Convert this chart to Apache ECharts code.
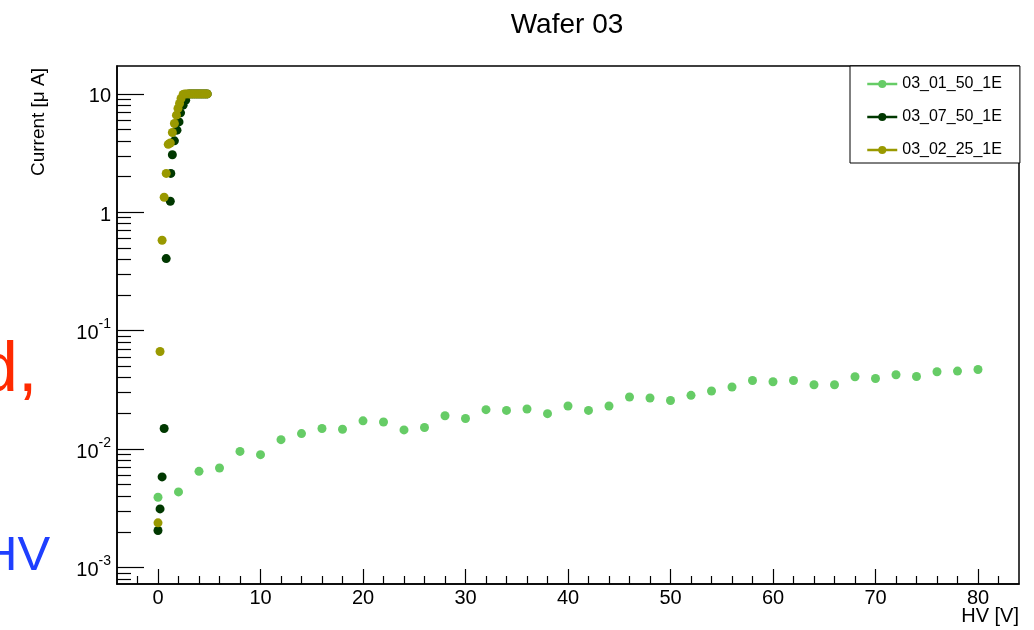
<!DOCTYPE html>
<html>
<head>
<meta charset="utf-8">
<script src="https://cdn.jsdelivr.net/npm/echarts@6/dist/echarts.min.js"></script>
<style>
html,body{margin:0;padding:0;background:#fff;}
#chart{width:1034px;height:630px;}
</style>
</head>
<body>
<div id="chart"></div>
<script>
// ---- data ----
const seriesNames = ['03_01_50_1E', '03_07_50_1E', '03_02_25_1E'];

const hv01 = [0,2,4,6,8,10,12,14,16,18,20,22,24,26,28,30,32,34,36,38,40,42,44,46,48,50,52,54,56,58,60,62,64,66,68,70,72,74,76,78,80];
const cur01 = [0.00391,0.00434,0.00648,0.00692,0.00955,0.00896,0.0120,0.0135,0.0149,0.0147,0.0173,0.0169,0.0145,0.0152,0.0191,0.0181,0.0215,0.0212,0.0218,0.0199,0.0231,0.0212,0.0231,0.0275,0.0270,0.0257,0.0284,0.0309,0.0334,0.0379,0.0370,0.0379,0.0349,0.0349,0.0408,0.0394,0.0424,0.0410,0.0449,0.0455,0.0470];

const hv07 = [0,0.2,0.4,0.6,0.8,1.2,1.25,1.4,1.6,1.85,2.05,2.2,2.45,2.7,3.0,3.2,3.4,3.6,3.8,4.0,4.2,4.4,4.6,4.8];
const cur07 = [0.00205,0.00312,0.00581,0.0149,0.406,1.24,2.13,3.06,4.01,4.94,5.80,6.92,8.03,8.85,10,10,10,10,10,10,10,10,10,10];

const hv02 = [0,0.2,0.4,0.6,0.8,1.0,1.2,1.4,1.6,1.8,1.95,2.1,2.25,2.45,2.6,2.8,3.0,3.2,3.4,3.6,3.8,4.0,4.2,4.4,4.6,4.8];
const cur02 = [0.00238,0.0667,0.580,1.34,2.13,3.75,3.85,4.72,5.62,6.61,7.53,8.30,9.15,9.9,10,10,10,10,10,10,10,10,10,10,10,10];

const xMajorTicks = [0,10,20,30,40,50,60,70,80];
const xMinorTicks = [-2,2,4,6,8,12,14,16,18,22,24,26,28,32,34,36,38,42,44,46,48,52,54,56,58,62,64,66,68,72,74,76,78,82];
const yMajorTicks = [0.001,0.01,0.1,1,10];
const yMinorTicks = [0.0008,0.0009,
  0.002,0.003,0.004,0.005,0.006,0.007,0.008,0.009,
  0.02,0.03,0.04,0.05,0.06,0.07,0.08,0.09,
  0.2,0.3,0.4,0.5,0.6,0.7,0.8,0.9,
  2,3,4,5,6,7,8,9];

const titleText = 'Wafer 03';
const xTitle = 'HV [V]';
const yTitle = 'Current [\u03bc A]';

// ---- chart ----
const FONT = '"Liberation Sans", Arial, Helvetica, sans-serif';
const colors = ['#66cc66', '#003800', '#999900'];
const pairs = (xs, ys) => xs.map((x, i) => [x, ys[i]]);
const seriesData = [pairs(hv01, cur01), pairs(hv07, cur07), pairs(hv02, cur02)];

const chart = echarts.init(document.getElementById('chart'), null, {renderer: 'canvas'});

const yLabelFmt = function (v) {
  const e = Math.round(Math.log10(v));
  if (e >= 0) return '{b|' + Math.round(Math.pow(10, e)) + '}';
  return '{b|10}{s|' + e + '}';
};

const option = {
  animation: false,
  backgroundColor: '#ffffff',
  textStyle: {fontFamily: FONT, color: '#000'},
  title: {
    text: titleText,
    left: 562, top: 6, textAlign: 'center',
    textStyle: {fontFamily: FONT, fontSize: 28, fontWeight: 'normal', color: '#000'}
  },
  legend: {
    data: seriesNames,
    orient: 'vertical',
    left: 850, top: 66,
    padding: [10, 18, 5, 16],
    itemGap: 17,
    itemWidth: 30, itemHeight: 10,
    backgroundColor: '#fff',
    borderColor: '#000', borderWidth: 1, borderRadius: 0,
    textStyle: {fontFamily: FONT, fontSize: 16, color: '#000'},
    lineStyle: {opacity: 1, width: 2.5},
    selectedMode: false
  },
  grid: {
    left: 117, right: 15, top: 66, bottom: 46,
    show: true, borderColor: '#000', borderWidth: 1.5,
    containLabel: false, outerBoundsMode: 'none'
  },
  xAxis: [
    {
      type: 'value', position: 'bottom', min: -4, max: 84,
      axisLine: {show: true, onZero: false, lineStyle: {color: '#000', width: 1.5}},
      axisTick: {show: true, inside: true, length: 15, customValues: xMajorTicks, lineStyle: {color: '#000', width: 1.2}},
      axisLabel: {show: true, customValues: xMajorTicks, fontFamily: FONT, fontSize: 20, color: '#000', margin: 4},
      splitLine: {show: false}
    },
    {
      type: 'value', position: 'bottom', min: -4, max: 84,
      axisLine: {show: false, onZero: false},
      axisTick: {show: true, inside: true, length: 8, customValues: xMinorTicks, lineStyle: {color: '#000', width: 1.2}},
      axisLabel: {show: false},
      splitLine: {show: false}
    }
  ],
  yAxis: [
    {
      type: 'log', logBase: 10, position: 'left', min: 0.000724, max: 17.2,
      axisLine: {show: true, onZero: false, lineStyle: {color: '#000', width: 1.5}},
      axisTick: {show: true, inside: true, length: 27, customValues: yMajorTicks, lineStyle: {color: '#000', width: 1.2}},
      axisLabel: {
        show: true, customValues: yMajorTicks, margin: 6, formatter: yLabelFmt,
        rich: {
          b: {fontFamily: FONT, fontSize: 20, color: '#000', lineHeight: 26, verticalAlign: 'bottom'},
          s: {fontFamily: FONT, fontSize: 14, color: '#000', lineHeight: 14, verticalAlign: 'top'}
        }
      },
      splitLine: {show: false}
    },
    {
      type: 'log', logBase: 10, position: 'left', min: 0.000724, max: 17.2,
      axisLine: {show: false, onZero: false},
      axisTick: {show: true, inside: true, length: 14, customValues: yMinorTicks, lineStyle: {color: '#000', width: 1.2}},
      axisLabel: {show: false},
      splitLine: {show: false}
    }
  ],
  series: seriesNames.map((name, i) => ({
    name: name,
    type: 'line',
    xAxisIndex: 0, yAxisIndex: 0,
    data: seriesData[i],
    symbol: 'circle', symbolSize: 9, showSymbol: true,
    itemStyle: {color: colors[i]},
    lineStyle: {color: colors[i], width: 2, opacity: 0},
    emphasis: {disabled: true},
    z: 2 + i
  })),
  graphic: [
    {
      type: 'text', x: 39, y: 122, rotation: Math.PI / 2,
      style: {text: yTitle, fontFamily: FONT, fontSize: 19, fill: '#000', textAlign: 'center', textVerticalAlign: 'middle'}
    },
    {
      type: 'text', x: 1019, y: 616,
      style: {text: xTitle, fontFamily: FONT, fontSize: 20, fill: '#000', textAlign: 'right', textVerticalAlign: 'middle'}
    },
    {
      type: 'text', x: -21, y: 372,
      style: {text: 'd,', fontFamily: FONT, fontSize: 70, fill: '#ff2a00', textAlign: 'left', textVerticalAlign: 'middle'}
    },
    {
      type: 'text', x: -18, y: 556,
      style: {text: 'HV', fontFamily: FONT, fontSize: 49, fill: '#1f3fff', textAlign: 'left', textVerticalAlign: 'middle'}
    }
  ]
};
chart.setOption(option);
</script>
</body>
</html>
